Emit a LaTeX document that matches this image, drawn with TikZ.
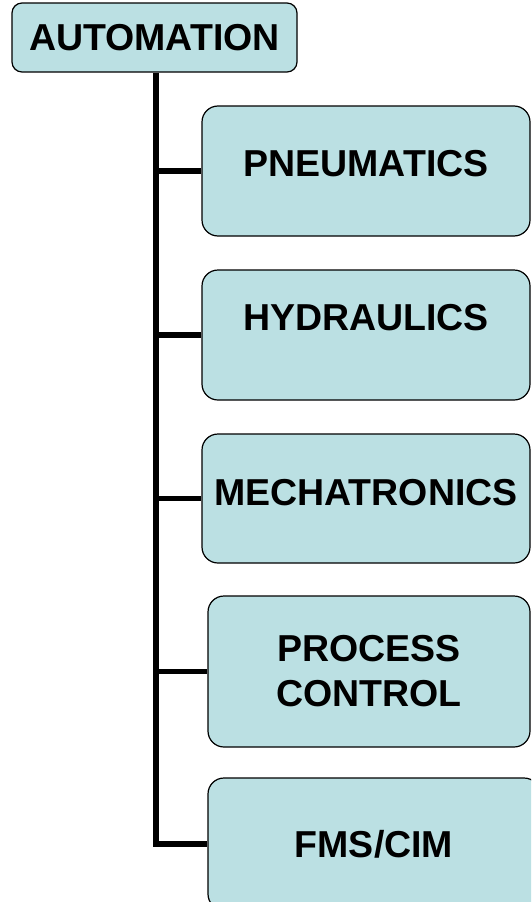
\documentclass[tikz,border=0pt]{standalone}
\usepackage{fontspec}
\setmainfont{Liberation Sans}
\usetikzlibrary{calc}
\definecolor{boxfill}{RGB}{187,224,227}
\tikzset{
  topic/.style={draw=black, line width=1.2pt, fill=boxfill, rounded corners=16pt,
    align=center, inner sep=0pt, font=\bfseries\fontsize{37.5}{45}\selectfont},
  link/.style={line width=5.5pt, black}
}

\begin{document}
\begin{tikzpicture}[x=1pt,y=-1pt]
  \clip (0,0) rectangle (531,902);
  \node[topic, rounded corners=10pt, minimum width=285pt, minimum height=69pt] (auto) at (154.5,37.5) {AUTOMATION};
  \node[topic, minimum width=328pt, minimum height=130pt, text depth=16pt] (pneu) at (366,171) {PNEUMATICS};
  \node[topic, minimum width=328pt, minimum height=130pt, text depth=36pt] (hydr) at (366,335) {HYDRAULICS};
  \node[topic, minimum width=328pt, minimum height=129pt, text depth=13pt] (mech) at (366,498.5) {MECHATRONICS};
  \node[topic, minimum width=322pt, minimum height=151pt] (proc) at (369,671.5) {PROCESS\\CONTROL};
  \node[topic, minimum width=332pt, minimum height=132pt] (fms) at (374,844) {FMS/CIM};
  % trunk and branches
  \draw[link] ($(auto.south)+(1.5,0)$) |- (fms.west);
  \foreach \b in {pneu,hydr,mech,proc}{
    \draw[link] ($(auto.south |- \b.west)+(1.5,0)$) -- (\b.west);
  }
\end{tikzpicture}
\end{document}
